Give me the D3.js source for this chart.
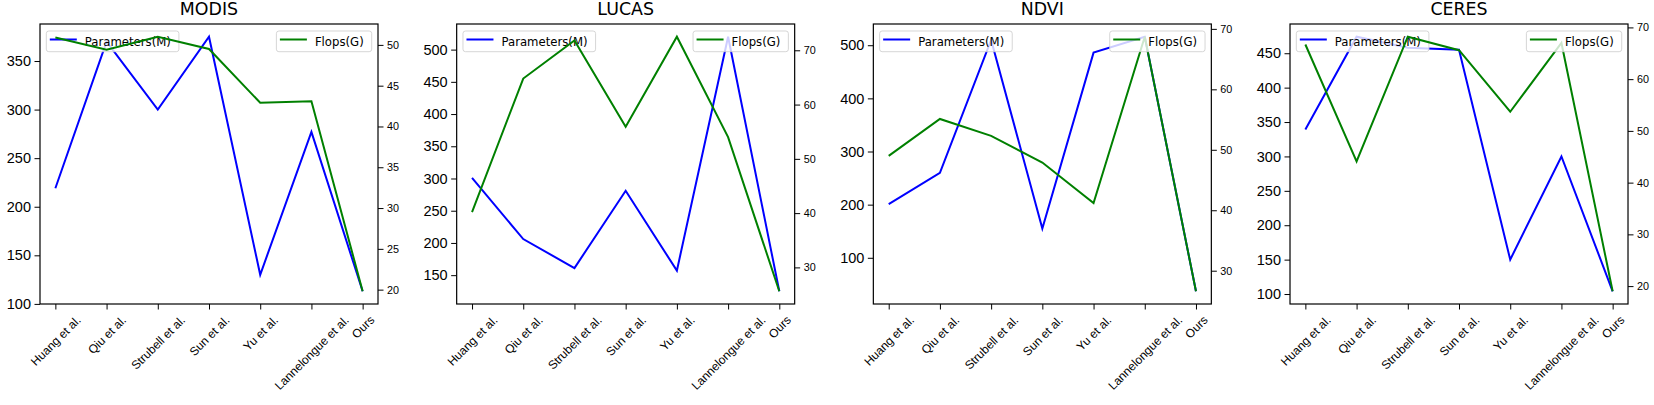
<!DOCTYPE html>
<html>
<head>
<meta charset="utf-8">
<script src="https://cdn.jsdelivr.net/npm/d3@7/dist/d3.min.js"></script>
<style>
  body { margin: 0; background: #fff; }
  svg { display: block; font-family: "DejaVu Sans", sans-serif; }
</style>
</head>
<body>
<script>
// values
const methods = ["Huang et al.", "Qiu et al.", "Strubell et al.", "Sun et al.", "Yu et al.", "Lannelongue et al.", "Ours"];
const datasets = ["MODIS", "LUCAS", "NDVI", "CERES"];

const paramsModis = [219, 370, 300, 375, 130, 277, 113];
const flopsModis = [50.9, 49.4, 51.0, 49.5, 42.9, 43.1, 19.8];
const paramsLucas = [301, 206, 161, 281, 157, 520, 125];
const flopsLucas = [40.2, 64.8, 71.8, 55.9, 72.5, 54.0, 25.6];
const paramsNdvi = [201, 260, 510, 155, 486, 516, 37];
const flopsNdvi = [49.0, 55.1, 52.3, 47.9, 41.2, 68.7, 26.6];
const paramsCeres = [339, 474, 458, 455, 150, 300, 104];
const flopsCeres = [66.7, 44.1, 68.2, 65.6, 53.7, 67.0, 19.0];

const paramTicks = [
    [100, 150, 200, 250, 300, 350],
    [150, 200, 250, 300, 350, 400, 450, 500],
    [100, 200, 300, 400, 500],
    [100, 150, 200, 250, 300, 350, 400, 450]
];
const flopTicks = [
    [20, 25, 30, 35, 40, 45, 50],
    [30, 40, 50, 60, 70],
    [30, 40, 50, 60, 70],
    [20, 30, 40, 50, 60, 70]
];

const paramSeries = [paramsModis, paramsLucas, paramsNdvi, paramsCeres];
const flopSeries = [flopsModis, flopsLucas, flopsNdvi, flopsCeres];

const svgData = {
    "width": 1654,
    "height": 405,
    "firstLeft": 40,
    "step": 416.67,
    "plotWidth": 338,
    "top": 24,
    "bottom": 304,
    "tick": 5.5,
    "pad": 3.5
};

const colors = { params: "#0000ff", flops: "#008000" };

const svg = d3.select("body").append("svg")
    .attr("width", svgData.width)
    .attr("height", svgData.height);

// matplotlib style 5% margins around the data
const padDomain = (values) => {
    const lo = d3.min(values), hi = d3.max(values);
    const m = (hi - lo) * 0.05;
    return [lo - m, hi + m];
};

const drawLegend = (g, x, y, label, color, alignRight) => {
    const fs = 11.7;
    const leg = g.append("g");
    const rect = leg.append("rect")
        .attr("y", 0)
        .attr("height", 20.7)
        .attr("rx", 2.5)
        .attr("fill", "#fff")
        .attr("fill-opacity", 0.8)
        .attr("stroke", "#cccccc")
        .attr("stroke-opacity", 0.8)
        .attr("stroke-width", 1);
    leg.append("line")
        .attr("x1", 3.5).attr("x2", 30.5)
        .attr("y1", 8.5).attr("y2", 8.5)
        .attr("stroke", color)
        .attr("stroke-width", 2);
    const txt = leg.append("text")
        .attr("x", 38.5)
        .attr("y", 10.5)
        .attr("dominant-baseline", "central")
        .style("font-size", fs + "px")
        .attr("fill", "#000")
        .text(label);
    const w = 38.5 + txt.node().getComputedTextLength() + 8;
    rect.attr("width", w);
    leg.attr("transform", "translate(" + (alignRight ? x - w : x) + "," + y + ")");
};

datasets.forEach((name, i) => {
    const left = svgData.firstLeft + i * svgData.step;
    const right = left + svgData.plotWidth;
    const g = svg.append("g");

    const scaleX = d3.scalePoint()
        .domain(methods)
        .range([left, right])
        .padding(0.3);
    const scaleY = d3.scaleLinear()
        .domain(padDomain(paramSeries[i]))
        .range([svgData.bottom, svgData.top]);
    const scaleY2 = d3.scaleLinear()
        .domain(padDomain(flopSeries[i]))
        .range([svgData.bottom, svgData.top]);

    // title
    g.append("text")
        .attr("x", (left + right) / 2)
        .attr("y", 15)
        .attr("text-anchor", "middle")
        .style("font-size", "17.4px")
        .text(name);

    // axes
    const yAxis = d3.axisLeft(scaleY)
        .tickValues(paramTicks[i])
        .tickSize(svgData.tick).tickSizeOuter(0).tickPadding(svgData.pad);
    const gy = g.append("g")
        .attr("transform", "translate(" + left + ",0)")
        .call(yAxis);
    gy.selectAll("text").style("font-size", "14.5px").attr("fill", "#000");

    const yAxis2 = d3.axisRight(scaleY2)
        .tickValues(flopTicks[i])
        .tickSize(svgData.tick).tickSizeOuter(0).tickPadding(svgData.pad);
    const gy2 = g.append("g")
        .attr("transform", "translate(" + right + ",0)")
        .call(yAxis2);
    gy2.selectAll("text").style("font-size", "10.8px").attr("fill", "#000");

    const xAxis = d3.axisBottom(scaleX)
        .tickSize(svgData.tick).tickSizeOuter(0).tickPadding(svgData.pad);
    const gx = g.append("g")
        .attr("transform", "translate(0," + svgData.bottom + ")")
        .call(xAxis);
    const fsX = 12;
    gx.selectAll("text")
        .style("font-size", fsX + "px")
        .attr("fill", "#000")
        .attr("dy", null)
        .attr("y", 0)
        .attr("text-anchor", "middle")
        .attr("dominant-baseline", "central")
        .attr("transform", function () {
            const w = this.getComputedTextLength();
            const h = fsX * 1.17;
            const off = svgData.tick + svgData.pad + (w + h) / (2 * Math.SQRT2);
            return "translate(0," + off + ") rotate(-45)";
        });

    [gy, gy2, gx].forEach(a => {
        a.select(".domain").remove();
        a.selectAll(".tick line").attr("stroke", "#000").attr("stroke-width", 1);
    });

    // parameters line (first axes)
    const lineP = d3.line()
        .x((d, k) => scaleX(methods[k]))
        .y(d => scaleY(d));
    g.append("path")
        .datum(paramSeries[i])
        .attr("d", lineP)
        .attr("fill", "none")
        .attr("stroke", colors.params)
        .attr("stroke-width", 2);

    drawLegend(g, left + 6.3, svgData.top + 7, "Parameters(M)", colors.params, false);

    // flops line (twin axes, drawn on top)
    const lineF = d3.line()
        .x((d, k) => scaleX(methods[k]))
        .y(d => scaleY2(d));
    g.append("path")
        .datum(flopSeries[i])
        .attr("d", lineF)
        .attr("fill", "none")
        .attr("stroke", colors.flops)
        .attr("stroke-width", 2);

    drawLegend(g, right - 6.3, svgData.top + 7, "Flops(G)", colors.flops, true);

    // frame
    g.append("rect")
        .attr("x", left)
        .attr("y", svgData.top)
        .attr("width", svgData.plotWidth)
        .attr("height", svgData.bottom - svgData.top)
        .attr("fill", "none")
        .attr("stroke", "#000")
        .attr("stroke-width", 1.2);
});
</script>
</body>
</html>
